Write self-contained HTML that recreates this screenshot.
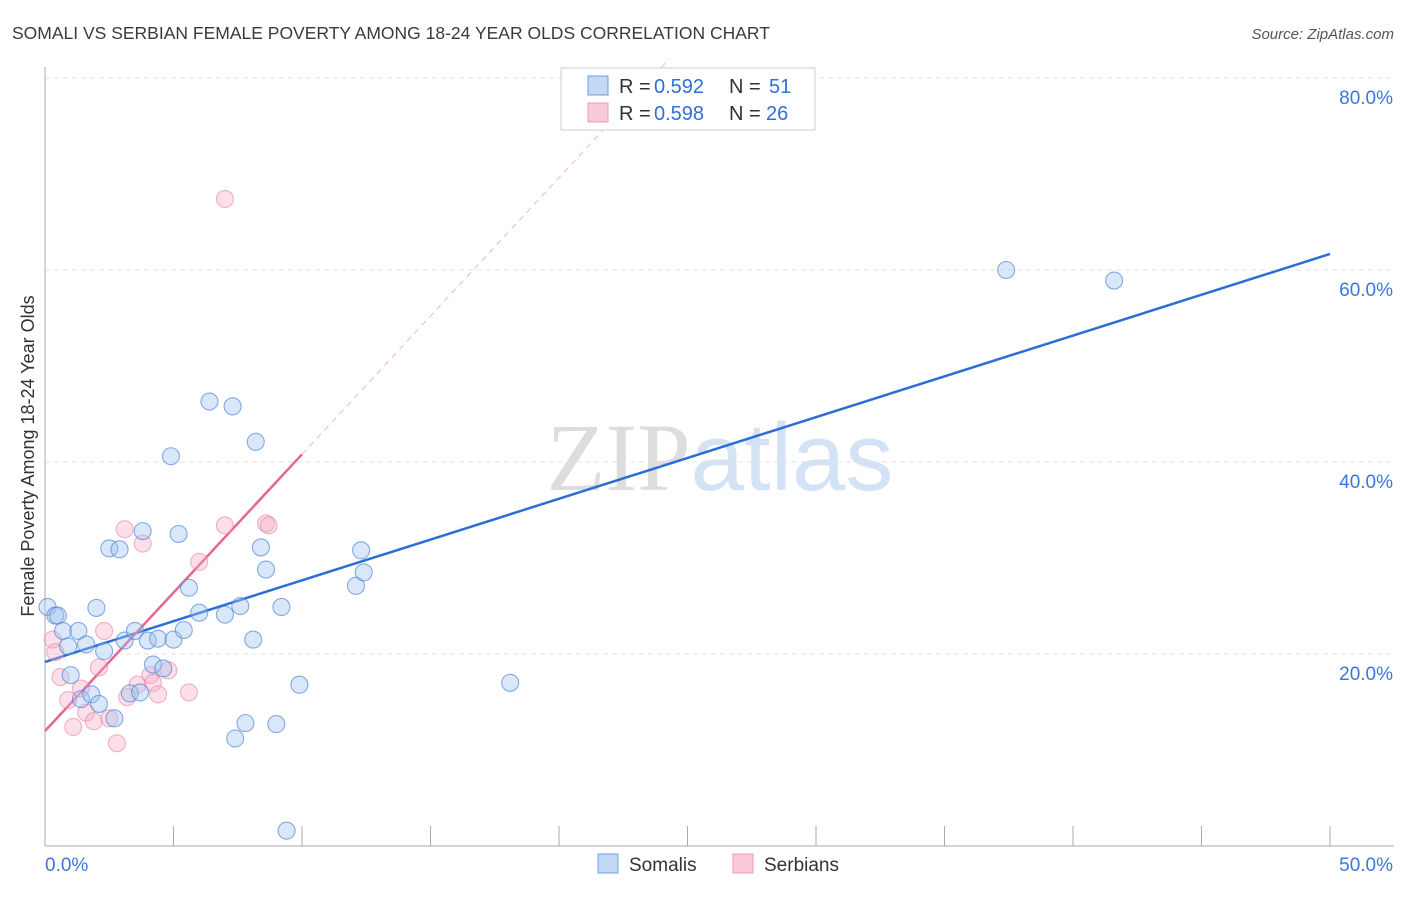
<!DOCTYPE html>
<html><head><meta charset="utf-8"><style>
body{margin:0;background:#fff;font-family:"Liberation Sans",sans-serif}
svg text{font-family:"Liberation Sans",sans-serif}
</style></head><body>
<svg id="chart" width="1406" height="892" xmlns="http://www.w3.org/2000/svg">
<text x="12" y="39" font-size="17.5" fill="#3a3a3a">SOMALI VS SERBIAN FEMALE POVERTY AMONG 18-24 YEAR OLDS CORRELATION CHART</text>
<text x="1394" y="39" font-size="15" fill="#555" font-style="italic" text-anchor="end">Source: ZipAtlas.com</text>
<text x="720" y="490" font-size="96" text-anchor="middle"><tspan fill="#ddd" font-family="Liberation Serif">ZIP</tspan><tspan fill="#d4e2f5">atlas</tspan></text>
<g id="grid"></g><g id="axes"></g><g id="lines"></g><g id="points"></g>
<text transform="translate(34,456) rotate(-90)" font-size="18" fill="#333" text-anchor="middle">Female Poverty Among 18-24 Year Olds</text>
<g>
<rect x="561" y="68" width="254" height="62" fill="#fff" stroke="#ccc"/>
<rect x="588" y="76" width="20" height="19" fill="#c4d9f5" stroke="#6f9de0"/>
<rect x="588" y="103" width="20" height="19" fill="#f9cad8" stroke="#ee9ab3"/>
<text x="619" y="93" font-size="20" fill="#333">R =</text><text x="654" y="93" font-size="20" fill="#2f6fd8">0.592</text>
<text x="729" y="93" font-size="20" fill="#333">N =</text><text x="769" y="93" font-size="20" fill="#2f6fd8">51</text>
<text x="619" y="120" font-size="20" fill="#333">R =</text><text x="654" y="120" font-size="20" fill="#2f6fd8">0.598</text>
<text x="729" y="120" font-size="20" fill="#333">N =</text><text x="766" y="120" font-size="20" fill="#2f6fd8">26</text>
</g>
<g>
<rect x="598" y="854" width="20" height="19" fill="#c4d9f5" stroke="#6f9de0"/>
<text x="629" y="871" font-size="19" fill="#333">Somalis</text>
<rect x="733" y="854" width="20" height="19" fill="#f9cad8" stroke="#ee9ab3"/>
<text x="764" y="871" font-size="19" fill="#333">Serbians</text>
</g>
</svg>
<script>
const yTicks=[20,40,60,80];
const xTickLabels=["0.0%","50.0%"];
const somaliX=[0.1,0.4,0.5,0.7,0.9,1.3,1.0,1.4,1.6,1.8,2.0,2.1,2.3,2.5,2.7,2.9,3.1,3.3,3.5,3.7,3.8,4.0,4.2,4.4,4.6,4.9,5.0,5.2,5.4,5.6,6.0,6.4,7.0,7.3,7.4,7.6,7.8,8.1,8.2,8.4,8.6,9.0,9.2,9.4,9.9,12.1,12.3,12.4,18.1,37.4,41.6];
const somaliY=[24.9,24.0,24.0,22.4,20.8,22.4,17.8,15.3,21.0,15.8,24.8,14.8,20.3,31.0,13.3,30.9,21.4,15.9,22.4,16.0,32.8,21.4,18.9,21.6,18.5,40.6,21.5,32.5,22.5,26.9,24.3,46.3,24.1,45.8,11.2,25.0,12.8,21.5,42.1,31.1,28.8,12.7,24.9,1.6,16.8,27.1,30.8,28.5,17.0,60.0,58.9];
const serbianX=[0.3,0.4,0.6,0.9,1.1,1.4,1.6,1.9,2.1,2.3,2.5,2.8,3.1,3.2,3.6,3.8,4.1,4.2,4.4,4.8,5.6,6.0,7.0,7.0,8.6,8.7];
const serbianY=[21.5,20.2,17.6,15.2,12.4,16.4,13.9,13.0,18.6,22.4,13.3,10.7,33.0,15.5,16.8,31.5,17.8,17.0,15.8,18.3,16.0,29.6,67.4,33.4,33.6,33.4];
const somaliFit=[19.17,61.67];
const serbianFit=[11.98,40.8];
const NS="http://www.w3.org/2000/svg";
const X0=45,X1=1330,Y0=846,PPU=9.6;
const sx=v=>X0+(v/50)*(X1-X0);
const sy=v=>Y0-v*PPU;
function mk(tag,attrs,parent){const e=document.createElementNS(NS,tag);for(const k in attrs)e.setAttribute(k,attrs[k]);document.getElementById(parent).appendChild(e);return e;}
yTicks.forEach(t=>{
 const l=mk('line',{x1:X0,x2:1394,y1:sy(t),y2:sy(t),stroke:'#e2e2e2','stroke-dasharray':'5,4'},'grid');
 
 
 const tx=mk('text',{x:1393,y:sy(t)+26,'font-size':19,fill:'#3a78d8','text-anchor':'end'},'grid');
 tx.textContent=t.toFixed(1)+'%';
 
 
});
const ax=mk('line',{x1:X0,x2:X0,y1:67,y2:Y0,stroke:'#aaa'},'axes');


const bx=mk('line',{x1:X0,x2:1394,y1:Y0,y2:Y0,stroke:'#aaa'},'axes');


for(let i=0;i<=10;i++){
 const t=mk('line',{x1:sx(i*5),x2:sx(i*5),y1:826,y2:Y0,stroke:'#aaa'},'axes');
 
 
}
[[0,'start',X0],[50,'end',1393]].forEach((d,i)=>{
 const t=mk('text',{x:d[2],y:871,'font-size':19,fill:'#3a78d8','text-anchor':d[1]},'axes');
 t.textContent=xTickLabels[i];
 
 
});
function drawPts(xs,ys,fill,stroke,name){
 xs.forEach((x,i)=>{
  const c=mk('circle',{cx:sx(x),cy:sy(ys[i]),r:8.5,fill:fill,stroke:stroke,'stroke-width':1.1},'points');
  
  
 });
}
drawPts(serbianX,serbianY,'rgba(246,170,195,0.38)','rgba(236,130,163,0.6)','serbian');
drawPts(somaliX,somaliY,'rgba(160,196,240,0.4)','rgba(70,130,215,0.65)','somali');
const bl=mk('line',{x1:sx(0),y1:sy(somaliFit[0]),x2:sx(50),y2:sy(somaliFit[1]),stroke:'#2a6fd6','stroke-width':2.5},'lines');


const slope=(serbianFit[1]-serbianFit[0])/10;
const xe=(82-serbianFit[0])/slope;
const pd=mk('line',{x1:sx(10),y1:sy(serbianFit[1]),x2:sx(xe),y2:sy(82),stroke:'#f3b5c8','stroke-width':1,'stroke-dasharray':'6,5'},'lines');


const pl=mk('line',{x1:sx(0),y1:sy(serbianFit[0]),x2:sx(10),y2:sy(serbianFit[1]),stroke:'#e8658e','stroke-width':2.5},'lines');


</script>
</body></html>
